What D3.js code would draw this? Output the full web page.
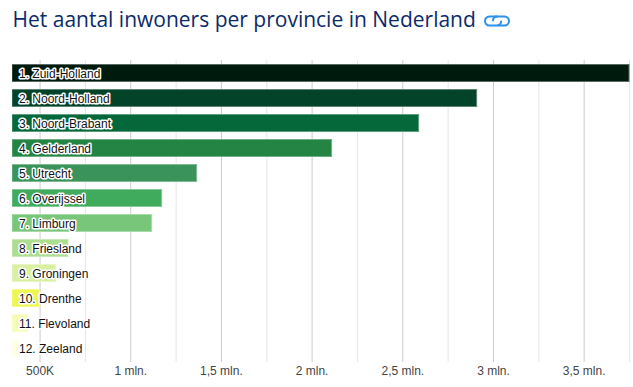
<!DOCTYPE html>
<html>
<head>
<meta charset="utf-8">
<script src="https://cdn.jsdelivr.net/npm/d3@7"></script>
<style>
html, body { margin: 0; padding: 0; background: #fff; overflow: hidden; }
.title { font-family: "Open Sans", sans-serif; font-size: 21px; font-weight: 500; fill: #0b2a6b; }
.label { font-family: "Liberation Sans", Arial, sans-serif; font-size: 12px; fill: #111; }
.halo { stroke: #fff; stroke-width: 3px; stroke-linejoin: round; }
.tick text { font-family: "Liberation Sans", Arial, sans-serif; font-size: 12px; fill: #444; }
</style>
</head>
<body>
<svg id="chart" width="633" height="387"></svg>
<script>
// data
var provinces = ["Zuid-Holland", "Noord-Holland", "Noord-Brabant", "Gelderland", "Utrecht", "Overijssel",
    "Limburg", "Friesland", "Groningen", "Drenthe", "Flevoland", "Zeeland"];
var inhabitants = [3750000, 2910000, 2590000, 2110000, 1366000, 1173000, 1118000, 657000, 588000, 500000, 434000, 384000];
var barColors = ["#001a0d", "#03432a", "#04683a", "#238443", "#39935a", "#41ab5d", "#78c679", "#addd8e", "#d9f0a3", "#eef74f", "#f7fcb9", "#ffffe5"];
var majorTicks = [500000, 1000000, 1500000, 2000000, 2500000, 3000000, 3500000];
var minorTicks = [750000, 1250000, 1750000, 2250000, 2750000, 3250000, 3750000];
var tickLabels = ["500K", "1 mln.", "1,5 mln.", "2 mln.", "2,5 mln.", "3 mln.", "3,5 mln."];
var titleText = "Het aantal inwoners per provincie in Nederland";

var svg = d3.select("#chart");

var x = d3.scaleLinear().domain([348000, 3750000]).range([12, 629]);
var y = d3.scaleBand().domain(provinces).range([60.5, 360.5]).paddingInner(0.32).paddingOuter(0.16);

svg.append("text")
    .attr("class", "title")
    .attr("x", 12.5)
    .attr("y", 26.5)
    .text(titleText);

// link icon next to the title
var icon = svg.append("g")
    .attr("transform", "translate(484,15)")
    .attr("fill", "none")
    .attr("stroke", "#2b90e8")
    .attr("stroke-width", 2)
    .attr("stroke-linecap", "round");
icon.append("path").attr("d", "M13,1.5H5.5A4.5,4.5 0 0 0 5.5,10.5H13A4,4 0 0 0 17,6.5");
icon.append("path").attr("d", "M9,5.5A4,4 0 0 1 13,1.5H20.5A4.5,4.5 0 0 1 20.5,10.5H14");

// grid lines
svg.append("g")
    .attr("transform", "translate(0,60)")
    .call(d3.axisBottom(x).tickValues(minorTicks).tickSize(302).tickFormat(""))
    .call(function(g) { g.select(".domain").remove(); })
    .selectAll("line")
    .attr("stroke", "#e6e6e6");

var axis = svg.append("g")
    .attr("transform", "translate(0,60)")
    .call(d3.axisBottom(x).tickValues(majorTicks).tickSize(302).tickPadding(4)
        .tickFormat(function(d, i) { return tickLabels[i]; }));
axis.select(".domain").remove();
axis.selectAll("line").attr("stroke", "#ccc");

// bars start at the plot edge, so the left stroke is cut off
svg.append("clipPath").attr("id", "plot-clip")
    .append("rect").attr("x", x.range()[0]).attr("y", 0).attr("width", 621).attr("height", 387);

svg.append("g").attr("clip-path", "url(#plot-clip)").selectAll("rect")
    .data(provinces)
    .enter()
    .append("rect")
    .attr("x", x.range()[0])
    .attr("y", function(d) { return y(d); })
    .attr("width", function(d, i) { return x(inhabitants[i]) - x.range()[0]; })
    .attr("height", y.bandwidth())
    .attr("fill", function(d, i) { return barColors[i]; })
    .attr("stroke", function(d, i) { return d3.interpolateRgb(barColors[i], "#fff")(0.35); })
    .attr("stroke-width", 1);

// labels, white halo behind the text
var labels = svg.append("g").selectAll("g")
    .data(provinces)
    .enter()
    .append("g")
    .attr("transform", function(d) { return "translate(19," + (y(d) + y.bandwidth() / 2 + 4.5) + ")"; });

labels.append("text")
    .attr("class", "label halo")
    .text(function(d, i) { return (i + 1) + ". " + d; });
labels.append("text")
    .attr("class", "label")
    .text(function(d, i) { return (i + 1) + ". " + d; });
</script>
</body>
</html>
